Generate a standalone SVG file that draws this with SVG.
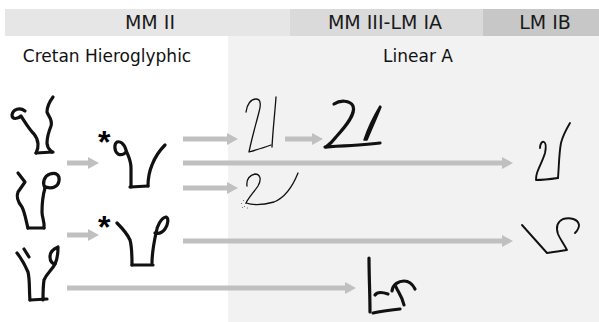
<svg xmlns="http://www.w3.org/2000/svg" width="599" height="322" viewBox="0 0 599 322">
<style>
.hdr{font-family:"DejaVu Sans","Liberation Sans",sans-serif;font-size:19px;fill:#1a1a1a;text-anchor:middle}
.lbl{font-family:"DejaVu Sans","Liberation Sans",sans-serif;font-size:17px;fill:#111;text-anchor:middle}
.ast{font-family:"Liberation Sans",Arial,sans-serif;font-size:32px;font-weight:bold;fill:#000000}
.bold{fill:none;stroke:#111;stroke-width:3.2;stroke-linecap:round;stroke-linejoin:round}
.thin{fill:none;stroke:#111;stroke-width:1.3;stroke-linecap:round;stroke-linejoin:round}
.mid{fill:none;stroke:#111;stroke-width:1.9;stroke-linecap:round;stroke-linejoin:round}
.arr{fill:none;stroke:#c0c0c0;stroke-width:5;marker-end:url(#ah)}
</style>
<defs>
<marker id="ah" markerUnits="userSpaceOnUse" viewBox="0 0 11 12" refX="0" refY="6" markerWidth="11" markerHeight="12" orient="auto">
<path d="M0,0 L11,6 L0,12 z" fill="#c0c0c0"/>
</marker>
</defs>
<rect x="0" y="0" width="599" height="322" fill="#ffffff"/>
<g id="bands">
<rect x="228" y="36" width="371" height="286" fill="#f2f2f2"/>
<rect x="5" y="9" width="285" height="27" fill="#e6e6e6"/>
<rect x="290" y="9" width="193" height="27" fill="#dadada"/>
<rect x="483" y="9" width="116" height="27" fill="#c7c7c7"/>
<text class="hdr" x="150" y="29">MM II</text>
<text class="hdr" x="385" y="29">MM III-LM IA</text>
<text class="hdr" x="545" y="29">LM IB</text>
<text class="lbl" x="107" y="62">Cretan Hieroglyphic</text>
<text class="lbl" x="418" y="62">Linear A</text>
</g>
<g id="connectors">
<path class="arr" d="M67,163 H88"/>
<path class="arr" d="M67,235 H88"/>
<path class="arr" d="M67,288 H345"/>
<path class="arr" d="M183,139 H227"/>
<path class="arr" d="M183,163 H502"/>
<path class="arr" d="M183,188 H227"/>
<path class="arr" d="M183,241 H502"/>
<path class="arr" d="M285,139 H312"/>
</g>
<g id="hiero-1">
<path class="bold" d="M25,111 C20,107 13,109 12,115 C12,120 18,119 21,116 C25,122 29,129 34,134 C39,140 39,148 36,153"/>
<path class="bold" d="M53,97 C50,101 47,106 47,112 C48,116 53,119 51,126 C49,131 47,136 47,143 C47,148 50,150 52,152"/>
<path class="bold" d="M36,153 L53,152"/>
</g>
<g id="hiero-2">
<path class="bold" d="M18,173 L25,182 L18,192 C16,197 18,202 22,207 C25,213 26,221 28,228"/>
<path class="bold" d="M45,188 C42,183 44,176 50,174 C56,172 60,175 59,181 C58,187 52,189 46,187"/>
<path class="bold" d="M45,188 C43,195 42,203 42,212 C42,218 45,222 44,228"/>
<path class="bold" d="M28,228 L44,228"/>
</g>
<g id="hiero-3">
<path class="bold" d="M17,253 C21,258 25,265 28,272 C30,280 29,290 30,300"/>
<path class="bold" d="M24,249 L29,257"/>
<path class="bold" d="M58,247 C53,249 50,252 50,257 C50,262 53,264 55,264 C57,260 58,253 58,247"/>
<path class="bold" d="M55,264 C52,270 47,273 44,280 C43,287 43,294 43,300"/>
<path class="bold" d="M30,300 L47,299"/>
</g>
<g id="mm2-1">
<text class="ast" x="98" y="153">*</text>
<path class="bold" d="M126,150 C124,143 120,141 117,142 C114,144 114,151 118,154 C122,156 127,153 126,150 C128,156 131,160 131,168 L131,187"/>
<path class="bold" d="M130,187 L148,186"/>
<path class="bold" d="M165,145 C160,150 155,157 152,165 C149,172 148,180 148,186"/>
</g>
<g id="mm2-2">
<text class="ast" x="98" y="238">*</text>
<path class="bold" d="M117,223 C122,228 127,233 130,240 C132,247 132,256 132,265"/>
<path class="bold" d="M132,265 L153,265"/>
<path class="bold" d="M152,263 C152,256 153,247 156,233 C157,226 161,218 166,217 C169,218 168,225 165,229 C162,233 158,234 155,233"/>
</g>
<g id="la-1">
<path class="thin" d="M246,112 C247,104 251,99 256,99 C261,99 261,105 259,112 C256,124 252,137 249,152 C256,150 263,148 271,145"/>
<path class="thin" d="M276,97 C275,112 273,128 272,147"/>
</g>
<g id="la-2">
<path class="bold" d="M334,104 C340,100 350,100 353,106 C356,114 346,126 336,137 C333,141 330,144 326,147"/>
<path class="bold" d="M325,147 C343,146 362,145 380,143" stroke-width="3.2"/>
<path d="M380,106 C374,116 368,128 364,140 L367,140 C372,128 377,117 381,107 z" fill="#111" stroke="#111" stroke-width="1.5" stroke-linejoin="round"/>
</g>
<g id="la-3">
<path class="thin" d="M247,186 C246,179 250,175 255,174 C260,174 262,179 258,186 C254,192 249,197 246,203 C252,205 263,205 274,202 C284,198 292,188 298,173"/>
<path d="M243,200 l1,1 M241,203 l1,1 M244,206 l1,1 M247,208 l1,0 M242,207 l1,1 M245,203 l1,1" fill="none" stroke="#555" stroke-width="0.8"/>
</g>
<g id="lmib-1">
<path class="mid" d="M540,148 C540,144 542,141 544,142 C546,143 546,148 545,153 C543,160 539,167 537,173 C536,176 536,178 536,180 C543,180 551,179 558,178"/>
<path class="mid" d="M558,178 C559,166 559,153 561,143 C563,135 567,128 570,123"/>
</g>
<g id="lmib-2">
<path class="mid" d="M522,225 C530,234 539,244 547,253 C554,252 561,251 567,250 C564,244 560,239 558,234 C556,228 557,222 563,219 C570,217 578,219 579,225 C579,228 577,231 575,233"/>
</g>
<g id="la-4">
<path class="bold" d="M369,258 C369,276 370,294 370,312"/>
<path class="bold" d="M375,295 C377,292 382,292 388,294"/>
<path class="bold" d="M392,291 C393,284 399,281 404,281 C409,281 413,285 415,289"/>
<path class="bold" d="M396,287 C398,292 402,296 404,305"/>
<path class="bold" d="M373,313 C382,311 391,310 400,309"/>
</g>
</svg>
